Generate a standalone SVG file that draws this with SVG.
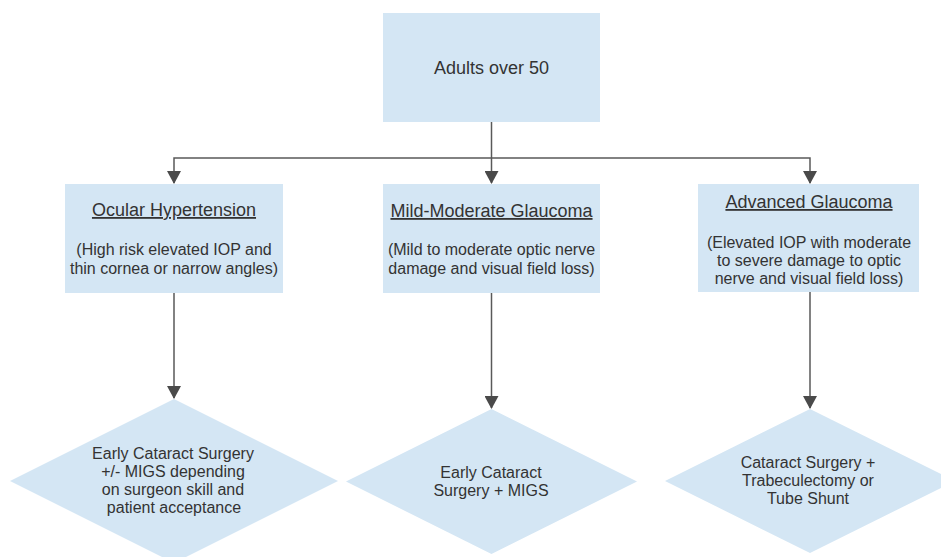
<svg xmlns="http://www.w3.org/2000/svg" width="941" height="557" viewBox="0 0 941 557">
<defs>
<style>
.box{fill:#d4e6f4;stroke:none}
.t{font-family:"Liberation Sans",Arial,sans-serif;fill:#333333;text-anchor:middle}
.h{font-size:18px;text-decoration:underline}
.b{font-size:16px}
.big{font-size:18px}
.c{fill:none;stroke:#595959;stroke-width:1.5;marker-end:url(#ah)}
</style>
<marker id="ah" markerWidth="13" markerHeight="14" refX="12" refY="7" orient="auto" markerUnits="userSpaceOnUse" viewBox="0 0 13 14">
<path d="M0,0 L13,7 L0,14 Z" fill="#4a4a4a"/>
</marker>
</defs>
<rect width="941" height="557" fill="#ffffff"/>
<g id="connectors">
<line class="c" x1="491.5" y1="122" x2="491.5" y2="183"/>
<polyline class="c" points="491.5,158 174,158 174,183"/>
<polyline class="c" points="491.5,158 810,158 810,183"/>
<line class="c" x1="174" y1="293" x2="174" y2="398"/>
<line class="c" x1="491.5" y1="293" x2="491.5" y2="408"/>
<line class="c" x1="810" y1="292" x2="810" y2="408"/>
</g>
<g id="adults">
<rect class="box" x="383" y="13" width="217" height="109"/>
<text class="t big" x="491.5" y="74">Adults over 50</text>
</g>
<g id="ocular">
<rect class="box" x="65" y="184" width="218" height="109"/>
<text class="t h" x="174" y="216">Ocular Hypertension</text>
<text class="t b" x="174" y="255">(High risk elevated IOP and</text>
<text class="t b" x="174" y="274">thin cornea or narrow angles)</text>
</g>
<g id="mild">
<rect class="box" x="383" y="184" width="217" height="109"/>
<text class="t h" x="491.5" y="217">Mild-Moderate Glaucoma</text>
<text class="t b" x="491.5" y="255">(Mild to moderate optic nerve</text>
<text class="t b" x="491.5" y="274">damage and visual field loss)</text>
</g>
<g id="advanced">
<rect class="box" x="698" y="184" width="221" height="108"/>
<text class="t h" x="809" y="208">Advanced Glaucoma</text>
<text class="t b" x="809" y="248">(Elevated IOP with moderate</text>
<text class="t b" x="809" y="266">to severe damage to optic</text>
<text class="t b" x="809" y="284">nerve and visual field loss)</text>
</g>
<g id="d1">
<polygon class="box" points="174,399 338,481 174,563 10,481"/>
<text class="t b" x="173" y="459">Early Cataract Surgery</text>
<text class="t b" x="173" y="477">+/- MIGS depending</text>
<text class="t b" x="173" y="495">on surgeon skill and</text>
<text class="t b" x="174" y="513">patient acceptance</text>
</g>
<g id="d2">
<polygon class="box" points="491.5,409 637,481.5 491.5,554 346,481.5"/>
<text class="t b" x="491" y="478">Early Cataract</text>
<text class="t b" x="491" y="496">Surgery + MIGS</text>
</g>
<g id="d3">
<polygon class="box" points="810,409 955,481 810,553 665,481"/>
<text class="t b" x="808" y="468">Cataract Surgery +</text>
<text class="t b" x="808" y="486">Trabeculectomy or</text>
<text class="t b" x="808" y="504">Tube Shunt</text>
</g>
</svg>
